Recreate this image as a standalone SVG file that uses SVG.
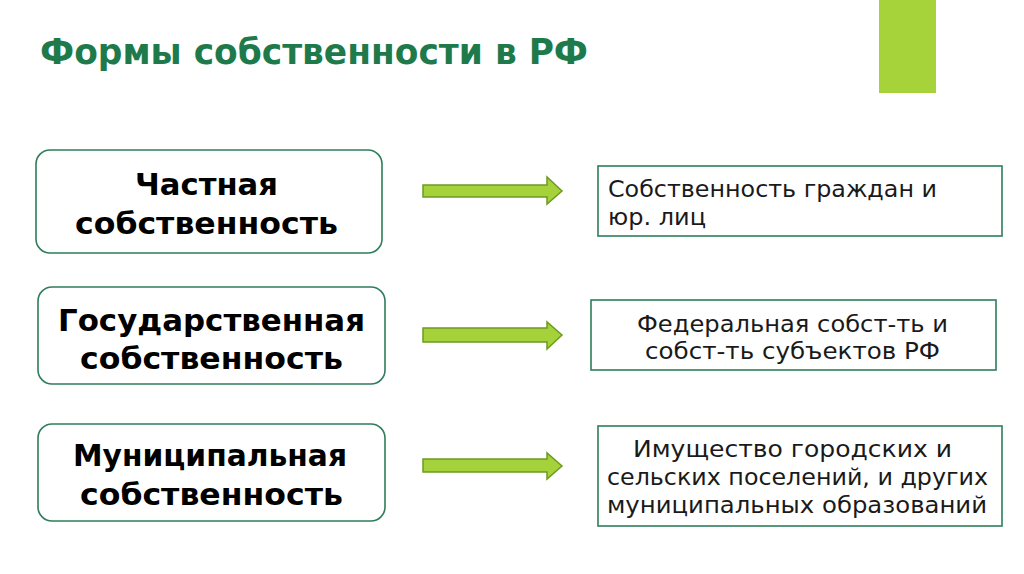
<svg xmlns="http://www.w3.org/2000/svg" width="1024" height="574" viewBox="0 0 1024 574">
<style>
.lbox{fill:#fff;stroke:#2e7d5b;stroke-width:1.6}
.rbox{fill:#fff;stroke:#2e7d5b;stroke-width:1.6}
.lt{font-family:"DejaVu Sans","Liberation Sans",sans-serif;font-weight:bold;font-size:31px;fill:#000}
.rt{font-family:"DejaVu Sans","Liberation Sans",sans-serif;font-size:23.5px;fill:#1a1a1a}
.arr{fill:#a5d23a;stroke:#6e9a22;stroke-width:1.5}
</style>
<rect width="1024" height="574" fill="#fff"/>
<rect x="879" y="0" width="57" height="93" fill="#a6d23a"/>
<text x="40" y="64" font-family="DejaVu Sans,Liberation Sans,sans-serif" font-weight="bold" font-size="36" fill="#1e7a4a" textLength="548" lengthAdjust="spacingAndGlyphs">Формы собственности в РФ</text>
<g id="n1"><rect class="lbox" x="36" y="150" width="346" height="103" rx="14"/><text class="lt" x="135" y="195" textLength="143" lengthAdjust="spacingAndGlyphs">Частная</text><text class="lt" x="75" y="234" textLength="263" lengthAdjust="spacingAndGlyphs">собственность</text></g>
<g id="n2"><rect class="lbox" x="38" y="287" width="347" height="97" rx="14"/><text class="lt" x="58" y="331" textLength="307" lengthAdjust="spacingAndGlyphs">Государственная</text><text class="lt" x="80" y="369" textLength="263" lengthAdjust="spacingAndGlyphs">собственность</text></g>
<g id="n3"><rect class="lbox" x="38" y="424" width="347" height="97" rx="14"/><text class="lt" x="73" y="466" textLength="274" lengthAdjust="spacingAndGlyphs">Муниципальная</text><text class="lt" x="80" y="505" textLength="263" lengthAdjust="spacingAndGlyphs">собственность</text></g>
<g id="r1"><rect class="rbox" x="598" y="166" width="404" height="70"/><text class="rt" x="608" y="197" textLength="329" lengthAdjust="spacingAndGlyphs">Собственность граждан и</text><text class="rt" x="608" y="225" textLength="98" lengthAdjust="spacingAndGlyphs">юр. лиц</text></g>
<g id="r2"><rect class="rbox" x="591" y="300" width="405" height="70"/><text class="rt" x="637" y="332" textLength="311" lengthAdjust="spacingAndGlyphs">Федеральная собст-ть и</text><text class="rt" x="645" y="359" textLength="295" lengthAdjust="spacingAndGlyphs">собст-ть субъектов РФ</text></g>
<g id="r3"><rect class="rbox" x="598" y="426" width="404" height="100"/><text class="rt" x="633" y="457" textLength="319" lengthAdjust="spacingAndGlyphs">Имущество городских и</text><text class="rt" x="607" y="485" textLength="381" lengthAdjust="spacingAndGlyphs">сельских поселений, и других</text><text class="rt" x="607" y="513" textLength="380" lengthAdjust="spacingAndGlyphs">муниципальных образований</text></g>
<g id="connectors">
<path class="arr" d="M423,185 H547 V177 L562,191 L547,204 V197 H423 Z"/>
<path class="arr" d="M423,328 H547 V322 L562,335 L547,349 V342 H423 Z"/>
<path class="arr" d="M423,459 H547 V453 L562,466 L547,479 V472 H423 Z"/>
</g>
</svg>
